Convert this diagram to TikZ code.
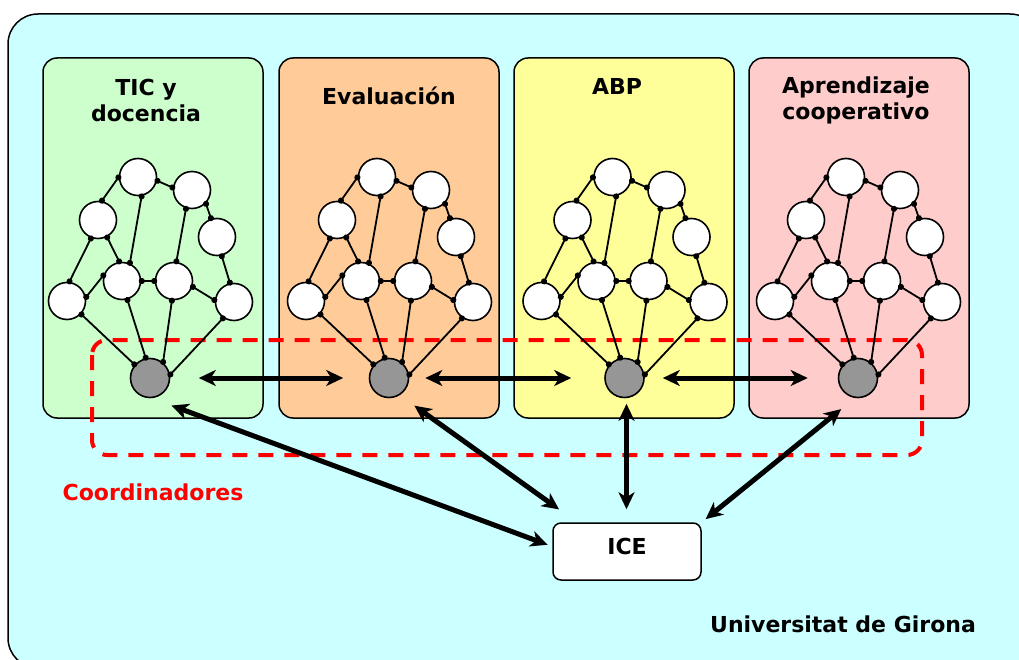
\documentclass[tikz,border=0pt]{standalone}
\usepackage{fontspec}
\setmainfont{DejaVu Sans}
\usetikzlibrary{arrows.meta,calc}
\definecolor{fondo}{HTML}{CCFFFF}
\definecolor{verde}{HTML}{CCFFCC}
\definecolor{naranja}{HTML}{FFCC99}
\definecolor{amarillo}{HTML}{FFFF99}
\definecolor{rosa}{HTML}{FFCCCC}
\definecolor{gris}{HTML}{969696}
\tikzset{
  panel/.style={draw,line width=1.5pt,rounded corners=14pt},
  titulo/.style={font=\bfseries\fontsize{22}{26}\selectfont,align=center},
  bola/.style={circle,draw,line width=1.6pt,fill=white,minimum size=37pt,inner sep=0pt},
  coordina/.style={bola,fill=gris,minimum size=39pt},
  enlace/.style={line width=1.8pt,{Circle[length=6pt]}-{Circle[length=6pt]},shorten <=-2.5pt,shorten >=-2.5pt},
  flecha/.style={line width=5pt,{Stealth[length=17pt,width=16pt,inset=5pt]}-{Stealth[length=17pt,width=16pt,inset=5pt]}}
}
\begin{document}
\begin{tikzpicture}[x=1pt,y=-1pt]
  \clip (0,0) rectangle (1019,660);
  \draw[line width=1.5pt,fill=fondo,rounded corners=30pt] (8,14) rectangle (1040,668);
  % paneles
  \foreach \px/\col in {43/verde,279/naranja,514/amarillo,749/rosa}
    \draw[panel,fill=\col] (\px,58) rectangle ++(220,360);
  \node[titulo] (tic) at (146,100) {TIC y\\docencia};
  \node[titulo] (eva) at (389,96) {Evaluación};
  \node[titulo] (abp) at (617,86) {ABP};
  \node[titulo] (apr) at (856,100) {Aprendizaje\\cooperativo};
  \draw[red,line width=4pt,dash pattern=on 15pt off 11pt,rounded corners=15pt]
    (92,340) rectangle (922,455);
  % redes
  \foreach \i/\gx in {1/150,2/389,3/624.5,4/858} {
    \node[coordina] (coord\i) at (\gx,378) {};
    \node[bola] (arr\i) at ($(\gx,378)+(-12,-201)$) {};
    \node[bola] (arrd\i) at ($(\gx,378)+(42,-188)$) {};
    \node[bola] (izq\i) at ($(\gx,378)+(-52,-158)$) {};
    \node[bola] (der\i) at ($(\gx,378)+(67,-141)$) {};
    \node[bola] (medi\i) at ($(\gx,378)+(-28,-97)$) {};
    \node[bola] (medd\i) at ($(\gx,378)+(24,-97)$) {};
    \node[bola] (exti\i) at ($(\gx,378)+(-83,-77)$) {};
    \node[bola] (extd\i) at ($(\gx,378)+(84,-76)$) {};
    \draw[enlace] (arr\i.180) -- (izq\i.79);
    \draw[enlace] (arr\i.-11) -- (arrd\i.173);
    \draw[enlace] (arr\i.-79) -- (medi\i.66);
    \draw[enlace] (arrd\i.-108) -- (medd\i.83);
    \draw[enlace] (arrd\i.-44) -- (der\i.108);
    \draw[enlace] (izq\i.-111) -- (exti\i.83);
    \draw[enlace] (izq\i.-62) -- (medi\i.98);
    \draw[enlace] (exti\i.11) -- (medi\i.162);
    \draw[enlace] (medi\i.0) -- (medd\i.180);
    \draw[enlace] (medd\i.-17) -- (extd\i.175);
    \draw[enlace] (der\i.-76) -- (extd\i.102);
    \draw[enlace] (exti\i.-43) -- (coord\i.139);
    \draw[enlace] (medi\i.-74) -- (coord\i.102);
    \draw[enlace] (medd\i.-96) -- (coord\i.50);
    \draw[enlace] (extd\i.-124) -- (coord\i.9);
  }
  \node[draw,line width=1.5pt,fill=white,rounded corners=8pt,minimum width=148pt,
    minimum height=57pt,text depth=10pt,font=\bfseries\fontsize{22}{26}\selectfont] (ice) at (627,551.5) {ICE};
  \node[font=\bfseries\fontsize{22}{26}\selectfont,text=red] (coordtxt) at (153,492) {Coordinadores};
  \node[font=\bfseries\fontsize{22}{26}\selectfont] (udg) at (843,624) {Universitat de Girona};
  % flechas
  \draw[flecha,shorten <=28.5pt,shorten >=25.5pt] (coord1) -- (coord2);
  \draw[flecha,shorten <=16pt,shorten >=33pt] (coord2) -- (coord3);
  \draw[flecha,shorten <=18pt,shorten >=30pt] (coord3) -- (coord4);
  \draw[flecha,shorten <=21pt,shorten >=5pt] (coord1.-85) -- ([yshift=5pt]ice.west);
  \draw[flecha,shorten <=18pt,shorten >=22pt] (coord2.-58) -- ([xshift=-50pt]ice.north);
  \draw[flecha,shorten <=5.5pt,shorten >=13pt] ([xshift=2pt]coord3.south) -- ([xshift=2pt]coord3.south |- ice.north);
  \draw[flecha,shorten <=17.5pt,shorten >=5pt] (coord4.-99) -- (ice.north east);
\end{tikzpicture}
\end{document}
